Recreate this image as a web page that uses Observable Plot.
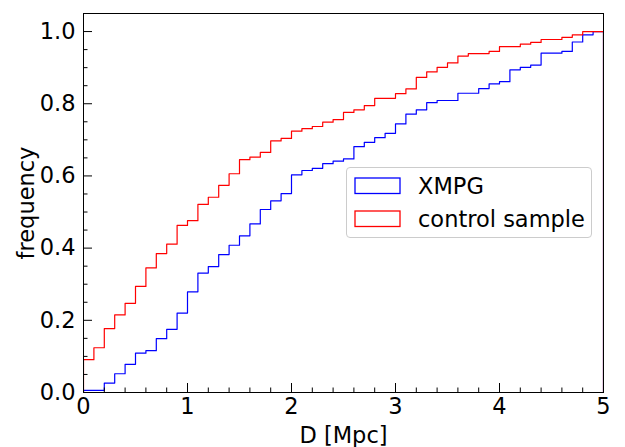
<!DOCTYPE html>
<html>
<head>
<meta charset="utf-8">
<script src="https://cdn.jsdelivr.net/npm/d3@7"></script>
<script src="https://cdn.jsdelivr.net/npm/@observablehq/plot@0.6"></script>
<style>
  body { margin: 0; background: #fff; }
  #wrap { position: relative; width: 625px; height: 447px; font-family: "DejaVu Sans", sans-serif; }
  .legend { position: absolute; left: 346px; top: 167px; width: 246px; height: 71px; box-sizing: border-box;
            border: 1px solid #cccccc; border-radius: 4px; background: rgba(255,255,255,0.8); }
  .patch { position: absolute; left: 7px; width: 47px; height: 18px; overflow: visible; }
  .lab { position: absolute; left: 71px; font-size: 22.5px; line-height: 22px; color: #000; white-space: nowrap; }
</style>
</head>
<body>
<div id="wrap"></div>
<script>
// ---- data (cumulative frequency per 0.1 Mpc bin, 0..5 Mpc) ----
const binWidth = 0.1;
const seriesNames = ["XMPG", "control sample"];
const seriesColors = ["#0000ff", "#ff0000"];
const xmpg = [
  0.006, 0.006, 0.026, 0.052, 0.078, 0.109, 0.116, 0.149, 0.175, 0.220,
  0.279, 0.331, 0.349, 0.382, 0.408, 0.434, 0.467, 0.507, 0.531, 0.551,
  0.603, 0.615, 0.621, 0.634, 0.641, 0.647, 0.681, 0.693, 0.706, 0.718,
  0.744, 0.771, 0.783, 0.803, 0.809, 0.809, 0.829, 0.829, 0.842, 0.855,
  0.861, 0.894, 0.901, 0.907, 0.940, 0.940, 0.945, 0.971, 0.991, 1.000
];
const control = [
  0.091, 0.124, 0.177, 0.215, 0.247, 0.294, 0.345, 0.385, 0.411, 0.463,
  0.476, 0.521, 0.541, 0.574, 0.606, 0.645, 0.652, 0.665, 0.697, 0.704,
  0.724, 0.731, 0.737, 0.749, 0.756, 0.776, 0.783, 0.795, 0.815, 0.815,
  0.828, 0.841, 0.873, 0.888, 0.901, 0.913, 0.932, 0.939, 0.939, 0.945,
  0.958, 0.958, 0.965, 0.970, 0.978, 0.978, 0.984, 0.991, 1.000, 1.000
];
const xTicks = [0, 1, 2, 3, 4, 5];
const xMinor = [0.2, 0.4, 0.6, 0.8, 1.2, 1.4, 1.6, 1.8, 2.2, 2.4, 2.6, 2.8, 3.2, 3.4, 3.6, 3.8, 4.2, 4.4, 4.6, 4.8];
const yTicks = [0, 0.2, 0.4, 0.6, 0.8, 1.0];
const yMinor = [0.05, 0.1, 0.15, 0.25, 0.3, 0.35, 0.45, 0.5, 0.55, 0.65, 0.7, 0.75, 0.85, 0.9, 0.95, 1.05];
const xLabel = "D [Mpc]";
const yLabel = "frequency";

// matplotlib "step" histogram outline
function stepPath(vals) {
  const pts = [{x: 0, y: 0}];
  vals.forEach((v, i) => {
    pts.push({x: i * binWidth, y: v});
    pts.push({x: (i + 1) * binWidth, y: v});
  });
  pts.push({x: vals.length * binWidth, y: 0});
  return pts;
}

const font = "DejaVu Sans";
const fs = 22.5;
const chart = Plot.plot({
  width: 625, height: 447,
  marginLeft: 83, marginRight: 22, marginTop: 13, marginBottom: 55,
  x: {domain: [0, 5]},
  y: {domain: [0, 1.05]},
  style: {fontFamily: font, fontSize: fs + "px", color: "black", background: "white"},
  marks: [
    Plot.line(stepPath(xmpg), {x: "x", y: "y", stroke: seriesColors[0], strokeWidth: 1.2, clip: true}),
    Plot.line(stepPath(control), {x: "x", y: "y", stroke: seriesColors[1], strokeWidth: 1.2, clip: true}),
    Plot.axisX(xTicks, {tickSize: -9, tickPadding: 15, tickFormat: d => String(d), label: null, fontSize: fs, strokeWidth: 1}),
    Plot.axisX(xMinor, {tickSize: -4.5, tickPadding: 0, tickFormat: () => "", label: null, strokeWidth: 1}),
    Plot.axisY(yTicks, {tickSize: -9, tickPadding: 17, tickFormat: d => d.toFixed(1), label: null, fontSize: fs, strokeWidth: 1}),
    Plot.axisY(yMinor, {tickSize: -4.5, tickPadding: 0, tickFormat: () => "", label: null, strokeWidth: 1}),
    Plot.frame({stroke: "black", strokeWidth: 1}),
    Plot.text([xLabel], {text: d => d, frameAnchor: "bottom", dy: 43, fontSize: fs, textAnchor: "middle", lineAnchor: "middle"}),
    Plot.text([yLabel], {text: d => d, frameAnchor: "left", dx: -57, rotate: -90, fontSize: fs, textAnchor: "middle", lineAnchor: "middle"})
  ]
});
const wrap = document.getElementById("wrap");
wrap.appendChild(chart);

// legend (matplotlib-style, inside the axes)
const leg = document.createElement("div");
leg.className = "legend";
const NS = "http://www.w3.org/2000/svg";
seriesNames.forEach((name, i) => {
  const s = document.createElementNS(NS, "svg");
  s.setAttribute("class", "patch");
  s.setAttribute("width", "47");
  s.setAttribute("height", "18");
  s.style.top = (9 + i * 32.5) + "px";
  const r = document.createElementNS(NS, "rect");
  r.setAttribute("x", "1"); r.setAttribute("y", "1");
  r.setAttribute("width", "45"); r.setAttribute("height", "15.5");
  r.setAttribute("fill", "none");
  r.setAttribute("stroke", seriesColors[i]);
  r.setAttribute("stroke-width", "1.3");
  s.appendChild(r);
  leg.appendChild(s);
  const t = document.createElement("div");
  t.className = "lab";
  t.style.top = (7 + i * 32.5) + "px";
  t.textContent = name;
  leg.appendChild(t);
});
wrap.appendChild(leg);
</script>
</body>
</html>
